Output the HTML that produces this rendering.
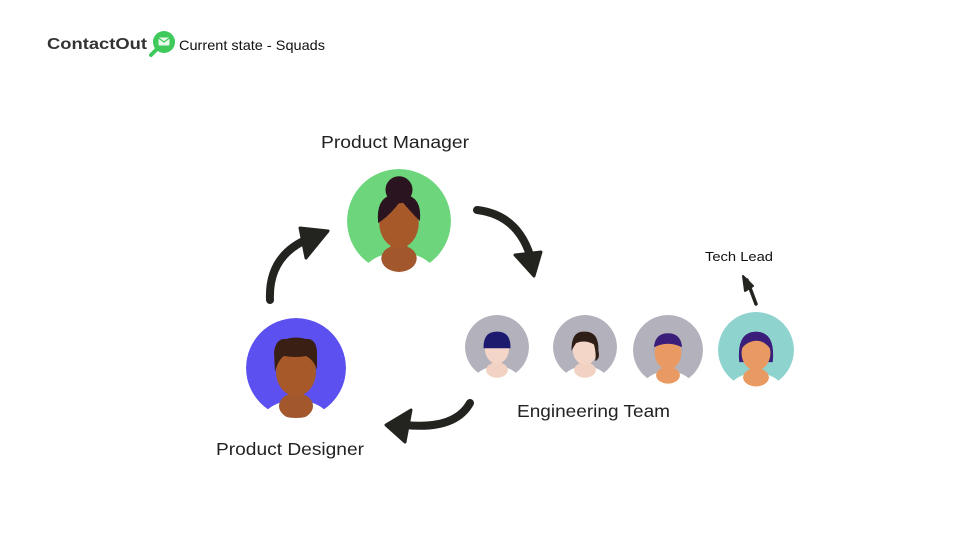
<!DOCTYPE html>
<html><head><meta charset="utf-8"><style>
html,body{margin:0;padding:0;background:#fff;width:960px;height:540px;overflow:hidden}
svg{display:block}
text{font-family:"Liberation Sans",sans-serif}
</style></head><body>
<svg width="960" height="540" viewBox="0 0 960 540" xmlns="http://www.w3.org/2000/svg">
<defs>
<clipPath id="c"><circle cx="0" cy="0" r="50"/></clipPath>
</defs>
<!-- header -->
<text x="47" y="49" font-size="15.5" font-weight="bold" fill="#333" textLength="100" lengthAdjust="spacingAndGlyphs">ContactOut</text>
<circle cx="164" cy="42" r="11" fill="#3ec95a"/>
<path d="M157,49 L151,55" stroke="#3ec95a" stroke-width="4" stroke-linecap="round"/>
<rect x="158.5" y="37.5" width="11" height="8" rx="1" fill="#e8f8ec"/>
<path d="M158.5,38 L164,42 L169.5,38" stroke="#3ec95a" stroke-width="1.2" fill="none"/>
<text x="179" y="50" font-size="14" fill="#111" textLength="146" lengthAdjust="spacingAndGlyphs">Current state - Squads</text>

<!-- Labels -->
<text x="321" y="148" font-size="17.5" fill="#222" textLength="148" lengthAdjust="spacingAndGlyphs">Product Manager</text>
<text x="216" y="455" font-size="17.5" fill="#222" textLength="148" lengthAdjust="spacingAndGlyphs">Product Designer</text>
<text x="517" y="417" font-size="17.5" fill="#222" textLength="153" lengthAdjust="spacingAndGlyphs">Engineering Team</text>
<text x="705" y="261" font-size="13" fill="#111" textLength="68" lengthAdjust="spacingAndGlyphs">Tech Lead</text>

<!-- PM -->
<g transform="translate(399,221) scale(1.04)">
<g clip-path="url(#c)">
<circle r="50" fill="#6dd67c"/>
<ellipse cx="0" cy="62" rx="40" ry="32" fill="#fff"/>
<rect x="-8" y="14" width="16" height="22" fill="#8e4a22"/>
<ellipse cx="0" cy="36" rx="17" ry="13" fill="#a2582c"/>
</g>
<ellipse cx="0" cy="2" rx="19" ry="24" fill="#a8592a"/>
<circle cx="0" cy="-30" r="13" fill="#2a1420"/>
<path d="M-20,2 Q-23,-26 0,-26 Q23,-26 20,0 Q10,-10 2,-20 Q-8,-6 -20,2Z" fill="#2a1420"/>
</g>
<!-- Designer -->
<g transform="translate(296,368)">
<g clip-path="url(#c)">
<circle r="50" fill="#5c51f0"/>
<ellipse cx="0" cy="64" rx="40" ry="32" fill="#fff"/>
<rect x="-8" y="14" width="16" height="24" fill="#8e4a22"/>
<ellipse cx="0" cy="38" rx="17" ry="13" fill="#a2582c"/>
</g>
<ellipse cx="0" cy="4" rx="20" ry="24" fill="#a8592a"/>
<path d="M-21,4 L-22,-16 Q-20,-30 -10,-29 Q0,-32 10,-29 Q20,-30 21,-16 L21,2 Q18,-8 10,-12 Q0,-10 -12,-12 Q-18,-8 -21,4Z" fill="#3a1f14"/>
</g>
<!-- eng 1 -->
<g transform="translate(497,347) scale(0.64)">
<g clip-path="url(#c)">
<circle r="50" fill="#b3b2bc"/>
<ellipse cx="0" cy="62" rx="40" ry="32" fill="#fff"/>
<rect x="-8" y="14" width="16" height="22" fill="#e8c0ae"/>
<ellipse cx="0" cy="36" rx="17" ry="12" fill="#f2d2c2"/>
</g>
<ellipse cx="0" cy="2" rx="19" ry="24" fill="#f4d6c8"/>
<path d="M-21,2 Q-22,-24 0,-24 Q22,-24 21,2 L-21,2Z" fill="#1c1a6e"/>
</g>
<!-- eng 2 -->
<g transform="translate(585,347) scale(0.64)">
<g clip-path="url(#c)">
<circle r="50" fill="#b3b2bc"/>
<ellipse cx="0" cy="62" rx="40" ry="32" fill="#fff"/>
<rect x="-8" y="14" width="16" height="22" fill="#e8c0ae"/>
<ellipse cx="0" cy="36" rx="17" ry="12" fill="#f2d2c2"/>
</g>
<ellipse cx="0" cy="4" rx="19" ry="24" fill="#f4d6c8"/>
<path d="M-21,6 Q-22,-26 0,-24 Q22,-24 21,6 Q24,18 16,22 Q18,10 14,-4 Q0,-12 -14,-6 Q-18,0 -21,6Z" fill="#2e1e16"/>
</g>
<!-- eng 3 -->
<g transform="translate(668,350) scale(0.7)">
<g clip-path="url(#c)">
<circle r="50" fill="#b3b2bc"/>
<ellipse cx="0" cy="62" rx="40" ry="32" fill="#fff"/>
<rect x="-8" y="14" width="16" height="22" fill="#d88a52"/>
<ellipse cx="0" cy="36" rx="17" ry="12" fill="#e89a62"/>
</g>
<ellipse cx="0" cy="4" rx="19" ry="24" fill="#e89a62"/>
<path d="M-20,4 Q-22,-24 0,-24 Q22,-24 20,4 L20,-4 Q0,-14 -20,-4Z" fill="#3a1e7a"/>
</g>
<!-- tech lead -->
<g transform="translate(756,350) scale(0.76)">
<g clip-path="url(#c)">
<circle r="50" fill="#8fd3cf"/>
<ellipse cx="0" cy="62" rx="40" ry="32" fill="#fff"/>
<rect x="-8" y="14" width="16" height="22" fill="#d88a52"/>
<ellipse cx="0" cy="36" rx="17" ry="12" fill="#e89a62"/>
</g>
<path d="M-22,16 Q-26,-24 0,-24 Q26,-24 22,16 Z" fill="#3a1e7a"/>
<ellipse cx="0" cy="4" rx="19" ry="23" fill="#e89a62"/>
<path d="M-20,0 Q-20,-24 0,-24 Q20,-24 20,0 Q10,-14 -2,-12 Q-14,-10 -20,0Z" fill="#3a1e7a"/>
</g>

<!-- Arrows -->
<g fill="#23241f" stroke="#23241f" stroke-linecap="round" stroke-linejoin="round">
<path d="M270,300 Q268,255 310,238" fill="none" stroke-width="8"/>
<polygon points="300,228 328,231 306,258" stroke-width="3"/>
<path d="M477,210 Q520,215 532,262" fill="none" stroke-width="8"/>
<polygon points="515,255 541,252 534,276" stroke-width="3"/>
<path d="M470,403 Q455,430 405,425" fill="none" stroke-width="8"/>
<polygon points="411,410 386,425 405,442" stroke-width="3"/>
<path d="M756,304 L747,280" fill="none" stroke-width="3.5"/>
<polygon points="743,276 745,291 753,286" stroke-width="2"/>
</g>
</svg>
</body></html>
